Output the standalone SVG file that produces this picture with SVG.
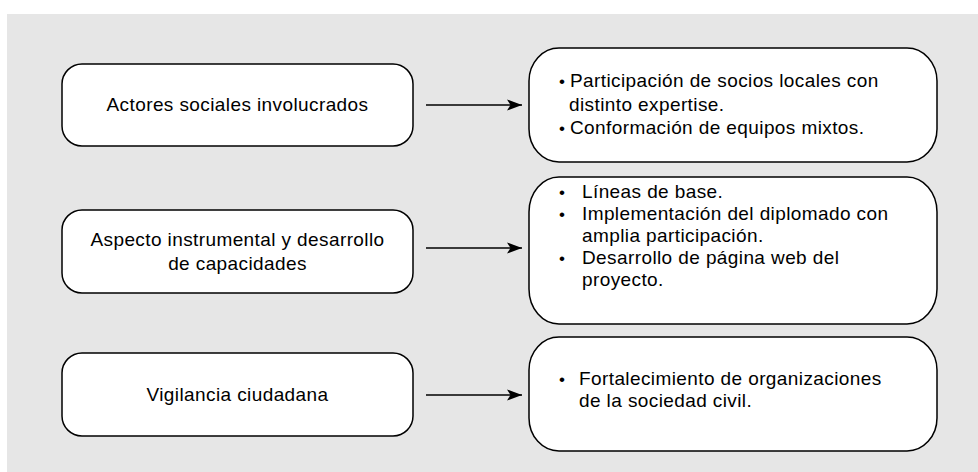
<svg xmlns="http://www.w3.org/2000/svg" width="978" height="472" viewBox="0 0 978 472">
<defs>
<marker id="ah" markerWidth="16" markerHeight="12" refX="15" refY="6" orient="auto" markerUnits="userSpaceOnUse">
<path d="M0,0.5 L15,6 L0,11.5 L3.5,6 Z" fill="#000"/>
</marker>
<style>
.bg{fill:#e6e6e6}
.box{fill:#fff;stroke:#000;stroke-width:1.5}
.t{font-family:"Liberation Sans",Arial,sans-serif;font-size:19px;letter-spacing:0.4px;fill:#000}
.b{font-family:"Liberation Sans",Arial,sans-serif;font-size:17px;fill:#000}
.c{text-anchor:middle}
.conn line{stroke:#000;stroke-width:1.4;marker-end:url(#ah)}
</style>
</defs>
<rect class="bg" x="7" y="14" width="971" height="458"/>
<g id="n1">
<rect class="box" x="62" y="64" width="351" height="82" rx="20" ry="20"/>
<text class="t c" x="237.5" y="111">Actores sociales involucrados</text>
</g>
<g id="n2">
<rect class="box" x="62" y="210" width="351" height="83" rx="20" ry="20"/>
<text class="t c" x="237.5" y="246">Aspecto instrumental y desarrollo</text>
<text class="t c" x="237.5" y="270">de capacidades</text>
</g>
<g id="n3">
<rect class="box" x="62" y="353" width="351" height="83" rx="20" ry="20"/>
<text class="t c" x="237.5" y="401">Vigilancia ciudadana</text>
</g>
<g id="r1">
<rect class="box" x="529" y="48" width="408" height="114" rx="30" ry="33"/>
<text class="b" x="559" y="87">•</text>
<text class="t" x="570" y="87">Participación de socios locales con</text>
<text class="t" x="569" y="111">distinto expertise.</text>
<text class="b" x="559" y="134">•</text>
<text class="t" x="570" y="134">Conformación de equipos mixtos.</text>
</g>
<g id="r2">
<rect class="box" x="529" y="177" width="408" height="147" rx="30" ry="35"/>
<text class="b" x="559" y="198">•</text>
<text class="t" x="582" y="198">Líneas de base.</text>
<text class="b" x="559" y="220">•</text>
<text class="t" x="582" y="220">Implementación del diplomado con</text>
<text class="t" x="582" y="242">amplia participación.</text>
<text class="b" x="559" y="264">•</text>
<text class="t" x="582" y="264">Desarrollo de página web del</text>
<text class="t" x="582" y="286">proyecto.</text>
</g>
<g id="r3">
<rect class="box" x="529" y="337" width="408" height="114" rx="30" ry="33"/>
<text class="b" x="559" y="385">•</text>
<text class="t" x="579" y="385">Fortalecimiento de organizaciones</text>
<text class="t" x="579" y="407">de la sociedad civil.</text>
</g>
<g id="connectors" class="conn">
<line x1="426" y1="105" x2="522" y2="105"/>
<line x1="426" y1="248" x2="522" y2="248"/>
<line x1="426" y1="395" x2="522" y2="395"/>
</g>
</svg>
